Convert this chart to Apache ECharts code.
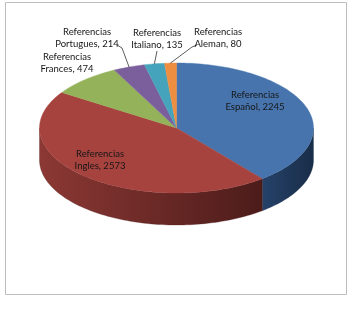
<!DOCTYPE html>
<html><head><meta charset="utf-8">
<script src="https://cdn.jsdelivr.net/npm/echarts@6/dist/echarts.min.js"></script>
<style>html,body{margin:0;padding:0;background:#fff}#c{width:353px;height:315px}</style>
</head><body><div id="c"></div>
<script>
const categories = ['Español', 'Ingles', 'Frances', 'Portugues', 'Italiano', 'Aleman'];
const values = [2245, 2573, 474, 214, 135, 80];
const labelPrefix = 'Referencias';

// style / layout (not data)
const topColors = ['#4774ad', '#a7433f', '#94b259', '#7b5f9d', '#46a3bc', '#ee8e40'];
const sideColors = [['#26426a', '#182d48'], ['#8c3834', '#4c1c1a'], ['#6e8740', '#4e6030'],
  ['#5a4374', '#3e2e52'], ['#307a8e', '#235a6a'], ['#b56a2c', '#80481c']];
const geo = { cx: 176.5, cy: 128, rx: 137, ry: 65, depth: 32 };
const labelPos = [[255, 101], [100, 160], [67, 63], [87, 38], [157, 39], [218, 38]];
const leaderStart = [null, null, null, [[117, 45], [122, 48]], [[157, 51]], [[197, 45], [192, 47]]];

const total = values.reduce((a, b) => a + b, 0);
const starts = [];
let acc = 0;
values.forEach(v => { starts.push(acc / total * 360); acc += v; });

function pt(deg, dy) {
  const r = deg * Math.PI / 180;
  return [geo.cx + geo.rx * Math.sin(r), geo.cy - geo.ry * Math.cos(r) + (dy || 0)];
}
function arc(a0, a1, dy) {
  const pts = [];
  const n = Math.max(2, Math.ceil((a1 - a0) / 1.5));
  for (let i = 0; i <= n; i++) pts.push(pt(a0 + (a1 - a0) * i / n, dy));
  return pts;
}

const chart = echarts.init(document.getElementById('c'));
chart.setOption({
  animation: false,
  graphic: [{
    type: 'rect', shape: { x: 5.5, y: 2.5, width: 341, height: 292 },
    style: { fill: 'none', stroke: '#bdbdbd', lineWidth: 1 }, z: 0
  }],
  series: [{
    type: 'custom',
    coordinateSystem: 'none',
    data: values.map((v, i) => [i, v]),
    renderItem: function (params, api) {
      const i = params.dataIndex;
      const v = api.value(1);
      const a0 = starts[i];
      const a1 = a0 + v / total * 360;
      const children = [];
      const lo = Math.max(a0, 90), hi = Math.min(a1, 270);
      if (hi > lo) {
        const top = arc(lo, hi, 0);
        const bot = arc(lo, hi, geo.depth).reverse();
        children.push({
          type: 'polygon', z2: 1,
          shape: { points: top.concat(bot) },
          style: {
            fill: {
              type: 'linear', x: 0, y: 0, x2: 1, y2: 0,
              colorStops: [{ offset: 0, color: sideColors[i][0] }, { offset: 1, color: sideColors[i][1] }]
            },
            stroke: sideColors[i][1], lineWidth: 0.3
          }
        });
      }
      children.push({
        type: 'polygon', z2: 5,
        shape: { points: [[geo.cx, geo.cy]].concat(arc(a0, a1, 0)) },
        style: { fill: topColors[i], stroke: topColors[i], lineWidth: 0.4 }
      });
      if (leaderStart[i]) {
        const mid = pt((a0 + a1) / 2, 0);
        children.push({
          type: 'polyline', z2: 8,
          shape: { points: leaderStart[i].concat([mid]) },
          style: { stroke: '#333', lineWidth: 0.8, fill: null }
        });
      }
      children.push({
        type: 'text', z2: 10,
        x: labelPos[i][0], y: labelPos[i][1],
        style: {
          text: labelPrefix + '\n' + categories[i] + ', ' + v,
          fontFamily: 'Lato', fontSize: 9.5, lineHeight: 12,
          fill: '#161616', align: 'center', verticalAlign: 'middle'
        }
      });
      return { type: 'group', children: children };
    }
  }]
});
</script></body></html>
